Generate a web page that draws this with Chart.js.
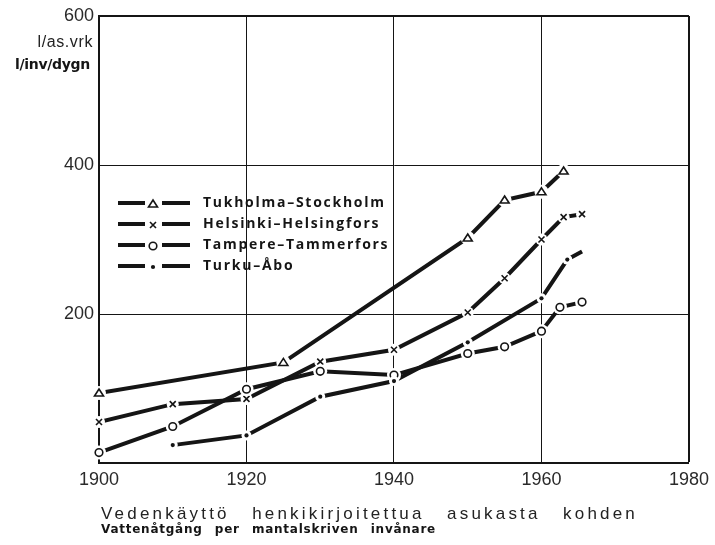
<!DOCTYPE html>
<html>
<head>
<meta charset="utf-8">
<script src="https://cdn.jsdelivr.net/npm/chart.js@4"></script>
<style>
  html, body { margin: 0; padding: 0; background: #fff; }
  #wrap { position: relative; width: 715px; height: 545px; }
</style>
</head>
<body>
<div id="wrap"><canvas id="chart" width="715" height="545"></canvas></div>
<script>
// Vedenkäyttö l/as.vrk - luettu kuvasta
const stockholmYears = [1900, 1925, 1950, 1955, 1960, 1963];
const stockholmValues = [94, 135, 302, 353, 364, 392];

const helsinkiYears = [1900, 1910, 1920, 1930, 1940, 1950, 1955, 1960, 1963, 1965.5];
const helsinkiValues = [55, 79, 86, 136, 152, 202, 248, 300, 330, 334];

const tampereYears = [1900, 1910, 1920, 1930, 1940, 1950, 1955, 1960, 1962.5, 1965.5];
const tampereValues = [14, 49, 99, 123, 118, 147, 156, 177, 209, 216];

const turkuYears = [1910, 1920, 1930, 1940, 1950, 1960, 1963.5, 1965.5];
const turkuValues = [24, 37, 89, 110, 162, 221, 273, 284];

const seriesLabels = ['Tukholma–Stockholm', 'Helsinki–Helsingfors', 'Tampere–Tammerfors', 'Turku–Åbo'];
const seriesMarkers = ['triangle', 'cross', 'circle', 'dot'];

const xTicks = [1900, 1920, 1940, 1960, 1980];
const yTicks = [0, 200, 400, 600];

const unitFi = 'l/as.vrk';
const unitSv = 'l/inv/dygn';
const captionFi = 'Vedenkäyttö henkikirjoitettua asukasta kohden';
const captionSv = 'Vattenåtgång per mantalskriven invånare';

const INK = '#151515';
const haloSize = { triangle: 7, cross: 6, circle: 7, dot: 5 };

function pisteet(xs, ys) {
  return xs.map((x, i) => ({ x: x, y: ys[i] }));
}

function piirraMerkki(ctx, kind, x, y) {
  ctx.save();
  ctx.strokeStyle = INK;
  ctx.fillStyle = INK;
  ctx.lineWidth = 1.6;
  ctx.beginPath();
  if (kind === 'triangle') {
    ctx.moveTo(x, y - 4);
    ctx.lineTo(x + 4.5, y + 3);
    ctx.lineTo(x - 4.5, y + 3);
    ctx.closePath();
    ctx.stroke();
  } else if (kind === 'cross') {
    ctx.moveTo(x - 3, y - 3); ctx.lineTo(x + 3, y + 3);
    ctx.moveTo(x + 3, y - 3); ctx.lineTo(x - 3, y + 3);
    ctx.stroke();
  } else if (kind === 'circle') {
    ctx.arc(x, y, 3.8, 0, Math.PI * 2);
    ctx.stroke();
  } else {
    ctx.arc(x, y, 2.1, 0, Math.PI * 2);
    ctx.fill();
  }
  ctx.restore();
}

// teksti: kiinteä kirjainväli, sanaväli venytetään leveyteen
function venytaTeksti(ctx, text, x, y, width, letterSp) {
  ctx.letterSpacing = letterSp + 'px';
  ctx.wordSpacing = '0px';
  const w0 = ctx.measureText(text).width;
  const gaps = text.split(' ').length - 1;
  const ws = gaps > 0 ? Math.max(0, (width - w0) / gaps) : 0;
  ctx.wordSpacing = ws.toFixed(2) + 'px';
  ctx.fillText(text, x, y);
  ctx.letterSpacing = '0px';
  ctx.wordSpacing = '0px';
}

// valkoinen rako merkkien ympärille ja merkit
const merkkiPlugin = {
  id: 'merkit',
  afterDatasetsDraw(chart) {
    const ctx = chart.ctx;
    chart.data.datasets.forEach((ds, i) => {
      const meta = chart.getDatasetMeta(i);
      meta.data.forEach((pt, j) => {
        if (ds.lastNoMarker && j === meta.data.length - 1) return;
        ctx.save();
        ctx.fillStyle = '#fff';
        ctx.beginPath();
        ctx.arc(pt.x, pt.y, haloSize[ds.marker], 0, Math.PI * 2);
        ctx.fill();
        ctx.restore();
        piirraMerkki(ctx, ds.marker, pt.x, pt.y);
      });
    });
  },
  afterDraw(chart) {
    const ctx = chart.ctx;
    const area = chart.chartArea;
    ctx.save();
    ctx.fillStyle = INK;
    ctx.textBaseline = 'middle';

    // selite
    ctx.font = 'bold 14px "Open Sans", sans-serif';
    ctx.letterSpacing = '0px';
    const w0 = ctx.measureText(seriesLabels[0]).width;
    const sp = (181 - w0) / (seriesLabels[0].length - 1);
    chart.data.datasets.forEach((ds, i) => {
      const y = 203 + i * 21;
      ctx.save();
      ctx.strokeStyle = INK;
      ctx.lineWidth = 4;
      ctx.beginPath();
      ctx.moveTo(118, y); ctx.lineTo(145, y);
      ctx.moveTo(162, y); ctx.lineTo(190, y);
      ctx.stroke();
      ctx.restore();
      piirraMerkki(ctx, ds.marker, 153, y + 1);
      ctx.letterSpacing = sp.toFixed(2) + 'px';
      ctx.textAlign = 'left';
      ctx.fillText(ds.label, 203, y);
      ctx.letterSpacing = '0px';
    });

    // yksiköt
    ctx.textAlign = 'right';
    ctx.fillStyle = '#222';
    ctx.font = '16px "Liberation Sans", sans-serif';
    ctx.letterSpacing = '0.6px';
    ctx.fillText(unitFi, area.left - 6, 43);
    ctx.fillStyle = INK;
    ctx.font = 'bold 14px "DejaVu Sans", sans-serif';
    ctx.letterSpacing = '-0.3px';
    ctx.fillText(unitSv, area.left - 9, 65);
    ctx.letterSpacing = '0px';

    // alateksti
    ctx.textAlign = 'left';
    ctx.textBaseline = 'alphabetic';
    ctx.fillStyle = '#222';
    ctx.font = '17px "Liberation Sans", sans-serif';
    venytaTeksti(ctx, captionFi, 101, 519, 537, 3.2);
    ctx.fillStyle = INK;
    ctx.font = 'bold 12px "DejaVu Sans", sans-serif';
    venytaTeksti(ctx, captionSv, 101, 533, 335, 0.75);
    ctx.restore();
  }
};

const tickFont = { family: '"Liberation Sans", Arial, sans-serif', size: 18 };

new Chart(document.getElementById('chart'), {
  type: 'line',
  data: {
    datasets: [
      { label: seriesLabels[0], marker: seriesMarkers[0], data: pisteet(stockholmYears, stockholmValues) },
      { label: seriesLabels[1], marker: seriesMarkers[1], data: pisteet(helsinkiYears, helsinkiValues) },
      { label: seriesLabels[2], marker: seriesMarkers[2], data: pisteet(tampereYears, tampereValues) },
      { label: seriesLabels[3], marker: seriesMarkers[3], lastNoMarker: true, data: pisteet(turkuYears, turkuValues) }
    ].map(ds => Object.assign(ds, {
      borderColor: INK,
      borderWidth: 4,
      pointRadius: 0,
      tension: 0,
      fill: false
    }))
  },
  options: {
    responsive: false,
    animation: false,
    devicePixelRatio: 1,
    layout: { padding: { top: 16, right: 25, left: 0, bottom: 0 } },
    plugins: {
      legend: { display: false },
      tooltip: { enabled: false }
    },
    scales: {
      x: {
        type: 'linear',
        min: 1900,
        max: 1980,
        afterBuildTicks: s => { s.ticks = xTicks.map(v => ({ value: v })); },
        afterFit: s => { s.height = 82; },
        ticks: {
          font: tickFont,
          color: '#2a2a2a',
          padding: 6,
          maxRotation: 0,
          callback: v => String(v)
        },
        grid: {
          color: INK,
          lineWidth: c => (c.tick && c.tick.value === 1980 ? 2 : 1),
          drawTicks: false
        },
        border: { color: INK, width: 2 }
      },
      y: {
        min: 0,
        max: 600,
        afterBuildTicks: s => { s.ticks = yTicks.map(v => ({ value: v })); },
        afterFit: s => { s.width = 99; },
        ticks: {
          font: tickFont,
          color: '#2a2a2a',
          padding: 5,
          callback: v => (v === 0 ? '' : String(v))
        },
        grid: {
          color: INK,
          lineWidth: c => (c.tick && c.tick.value === 600 ? 2 : 1),
          drawTicks: false
        },
        border: { color: INK, width: 2 }
      }
    }
  },
  plugins: [merkkiPlugin]
});
</script>
</body>
</html>
